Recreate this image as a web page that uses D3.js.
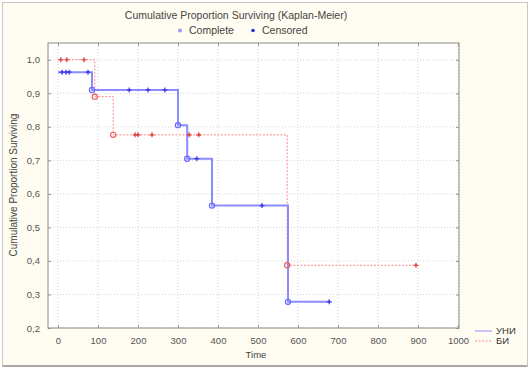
<!DOCTYPE html>
<html><head><meta charset="utf-8">
<script src="https://cdn.jsdelivr.net/npm/d3@7"></script>
<style>body{margin:0;background:#fff}svg{display:block}text{font-family:"Liberation Sans",Arial,sans-serif}</style>
</head><body><svg id="c" width="530" height="369"></svg>
<script>
const title = "Cumulative Proportion Surviving (Kaplan-Meier)";
const xTicks = [0,100,200,300,400,500,600,700,800,900,1000];
const yTicks = [0.2,0.3,0.4,0.5,0.6,0.7,0.8,0.9,1.0];
const seriesNames = ["УНИ","БИ"];
// step curve points [time, survival]
const uniSteps = [[0,0.963],[85,0.963],[85,0.91],[300,0.91],[300,0.805],[323,0.805],[323,0.705],[385,0.705],[385,0.565],[575,0.565],[575,0.278],[678,0.278]];
const uniComplete = [[85,0.91],[300,0.805],[323,0.705],[385,0.565],[575,0.278]];
const uniCensored = [[10,0.963],[20,0.963],[28,0.963],[75,0.963],[178,0.91],[225,0.91],[267,0.91],[347,0.705],[510,0.565],[678,0.278]];
const biSteps = [[0,1.0],[92,1.0],[92,0.89],[138,0.89],[138,0.776],[573,0.776],[573,0.387],[895,0.387]];
const biComplete = [[92,0.89],[138,0.776],[573,0.387]];
const biCensored = [[7,1.0],[22,1.0],[65,1.0],[193,0.776],[200,0.776],[235,0.776],[328,0.776],[352,0.776],[895,0.387]];

const svg = d3.select("#c");
svg.append("rect").attr("x",2.5).attr("y",2.5).attr("width",525).attr("height",363)
  .attr("fill","#fffcf1").attr("stroke","#c8c8c8");
svg.append("line").attr("x1",2.5).attr("x2",527.5).attr("y1",366).attr("y2",366).attr("stroke","#a8a8a8").attr("stroke-width",2);

const L=48,R=459,T=43,B=328;
const x = d3.scaleLinear().domain([-25,1002.5]).range([L,R]);
const y = d3.scaleLinear().domain([0.2,1.05]).range([B,T]);

svg.append("rect").attr("x",L).attr("y",T).attr("width",R-L).attr("height",B-T).attr("fill","#fff");

const g = svg.append("g");
g.selectAll(".gx").data(xTicks).join("line").attr("x1",d=>x(d)).attr("x2",d=>x(d)).attr("y1",T).attr("y2",B)
  .attr("stroke","#d4d4d4").attr("stroke-dasharray","1,2");
g.selectAll(".gy").data(yTicks).join("line").attr("x1",L).attr("x2",R).attr("y1",d=>y(d)).attr("y2",d=>y(d))
  .attr("stroke","#d4d4d4").attr("stroke-dasharray","1,2");

const fmt = d=>d3.format(".1f")(d).replace(".",",");
svg.append("g").attr("transform",`translate(0,${B})`)
  .call(d3.axisBottom(x).tickValues(xTicks).tickSize(-3).tickPadding(9).tickFormat(d3.format("d")));
svg.append("g").attr("transform",`translate(${L},0)`)
  .call(d3.axisLeft(y).tickValues(yTicks).tickSize(-3).tickPadding(8).tickFormat(fmt));
svg.append("g").attr("transform",`translate(0,${T})`).call(d3.axisTop(x).tickValues(xTicks).tickSize(-3).tickFormat(""));
svg.append("g").attr("transform",`translate(${R},0)`).call(d3.axisRight(y).tickValues(yTicks).tickSize(-3).tickFormat(""));
svg.selectAll(".domain").remove();
svg.selectAll(".tick line").attr("stroke","#999");
svg.selectAll(".tick text").attr("fill","#555").attr("font-size",9.5);
svg.append("rect").attr("x",L).attr("y",T).attr("width",R-L).attr("height",B-T).attr("fill","none").attr("stroke","#8a8a8a");

const line = d3.line().x(d=>x(d[0])).y(d=>y(d[1]));
const blue="#8c8cff", red="#ff8a8a";
svg.append("path").attr("d",line(biSteps)).attr("fill","none").attr("stroke",red).attr("stroke-width",1).attr("stroke-dasharray","2,1.5");
svg.append("path").attr("d",line(uniSteps)).attr("fill","none").attr("stroke",blue).attr("stroke-width",2);

function marks(comp,cens,col,dark){
  svg.append("g").selectAll("circle").data(comp).join("circle")
    .attr("cx",d=>x(d[0])).attr("cy",d=>y(d[1])).attr("r",2.6).attr("fill","none").attr("stroke",col).attr("stroke-width",1.2);
  svg.append("g").selectAll("path").data(cens).join("path")
    .attr("transform",d=>`translate(${x(d[0])},${y(d[1])})`)
    .attr("d","M-2.5,0H2.5M0,-2.5V2.5").attr("stroke",dark).attr("stroke-width",1.2);
  svg.append("g").selectAll("circle").data(cens).join("circle")
    .attr("cx",d=>x(d[0])).attr("cy",d=>y(d[1])).attr("r",1.3).attr("fill",dark);
}
marks(biComplete,biCensored,"#f06060","#e04848");
marks(uniComplete,uniCensored,"#6a6aff","#4040e8");

svg.append("text").attr("x",236).attr("y",19).attr("text-anchor","middle").attr("font-size",10.5).attr("fill","#444").text(title);
svg.append("circle").attr("cx",180).attr("cy",30.5).attr("r",2).attr("fill","#9a9aff");
svg.append("text").attr("x",189).attr("y",34).attr("font-size",10.5).attr("fill","#444").text("Complete");
svg.append("circle").attr("cx",253).attr("cy",30.5).attr("r",1.8).attr("fill","#2a2ae0");
svg.append("text").attr("x",262).attr("y",34).attr("font-size",10.5).attr("fill","#444").text("Censored");
svg.append("text").attr("x",256).attr("y",358).attr("text-anchor","middle").attr("font-size",9.5).attr("fill","#444").text("Time");
svg.append("text").attr("transform","translate(17,185) rotate(-90)").attr("text-anchor","middle").attr("font-size",10).attr("fill","#444").text("Cumulative Proportion Surviving");

const leg = svg.append("g");
seriesNames.forEach((n,i)=>{
  const yy = 331 + i*10;
  leg.append("line").attr("x1",475).attr("x2",492).attr("y1",yy).attr("y2",yy)
    .attr("stroke",i?red:blue).attr("stroke-width",1).attr("stroke-dasharray",i?"2,1.5":null);
  leg.append("text").attr("x",496).attr("y",yy+3).attr("font-size",9.5).attr("fill","#333").text(n);
});
</script></body></html>
